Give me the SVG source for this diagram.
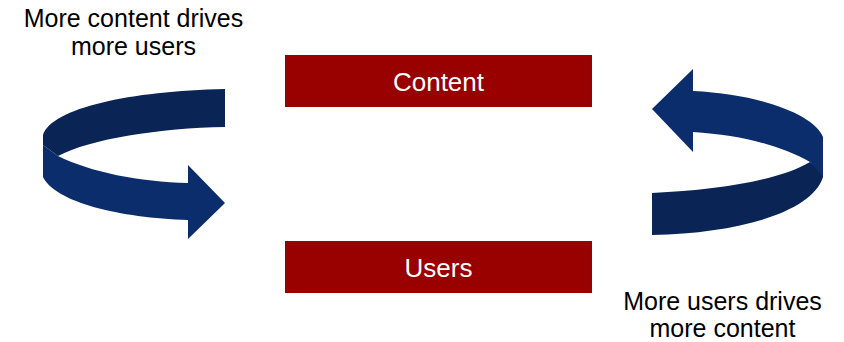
<svg xmlns="http://www.w3.org/2000/svg" width="844" height="342" viewBox="0 0 844 342">
<style>
.box{fill:#990000}
.lbl{font-family:"Liberation Sans",Arial,sans-serif;font-size:26px;fill:#ffffff;text-anchor:middle}
.cap{font-family:"Liberation Sans",Arial,sans-serif;font-size:25px;fill:#000000;text-anchor:middle}
.back{fill:#0a2456}
.front{fill:#0b2d6b}
</style>
<rect width="844" height="342" fill="#ffffff"/>
<g id="content">
<rect class="box" x="285" y="55" width="307" height="52"/>
<text class="lbl" x="438.5" y="91">Content</text>
</g>
<g id="users">
<rect class="box" x="285" y="241" width="307" height="52"/>
<text class="lbl" x="438.5" y="277">Users</text>
</g>
<g id="connectors">
<g id="left-cycle">
<path class="back" d="M225,89 L225,127 C160,128 90,139 58,156 L43,145 L43,135 C52,108 130,91 225,89 Z"/>
<path class="front" d="M43,145 L58,156 C90,172 140,182 188,183 L188,165 L225,203 L188,239 L188,220 C120,218 55,202 43,177 Z"/>
</g>
<g id="right-cycle">
<path class="back" d="M652,193 C720,190 780,180 810,162 L823,172 L823,177 C812,212 740,233 652,235 Z"/>
<path class="front" d="M652,109 L693,69 L693,91 C760,94 815,115 823,137 L823,177 L810,162 C780,145 740,135 693,132 L693,152 Z"/>
</g>
</g>
<g id="caption-left">
<text class="cap" x="133.5" y="27">More content drives</text>
<text class="cap" x="133.5" y="55">more users</text>
</g>
<g id="caption-right">
<text class="cap" x="722.5" y="310">More users drives</text>
<text class="cap" x="722.5" y="337">more content</text>
</g>
</svg>
